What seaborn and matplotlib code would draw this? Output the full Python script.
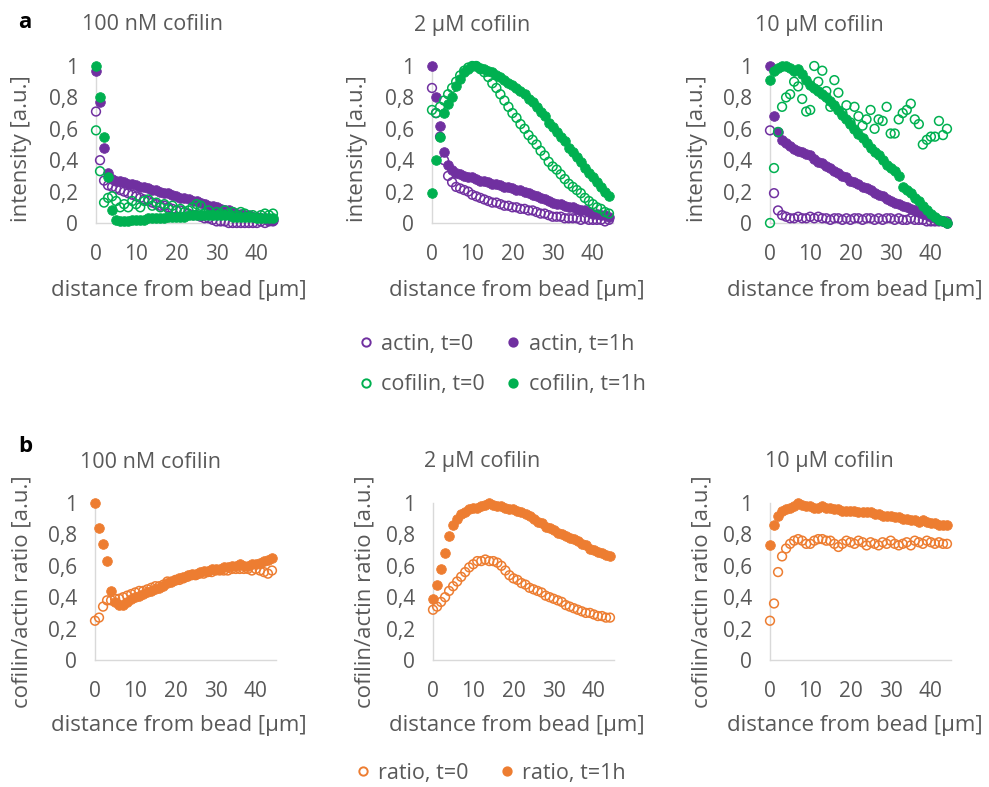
import matplotlib
matplotlib.use("Agg")
import matplotlib.pyplot as plt
from matplotlib.lines import Line2D
import numpy as np
import seaborn as sns

# distance from bead [um], one profile point per um
distance = np.arange(45)

# --- panel a: normalised intensity profiles ---
# 100 nM cofilin
actin0_100nM = [0.71, 0.40, 0.27, 0.24, 0.23, 0.22, 0.21, 0.20, 0.19, 0.18, 0.17, 0.16, 0.15, 0.14, 0.13,
                0.12, 0.11, 0.11, 0.10, 0.09, 0.08, 0.08, 0.07, 0.06, 0.05, 0.05, 0.04, 0.03, 0.03, 0.02,
                0.01, 0.01, 0.01, 0.00, 0.00, 0.00, 0.00, 0.00, 0.00, 0.00, 0.00, 0.01, 0.00, 0.01, 0.01]
actin1_100nM = [0.97, 0.77, 0.48, 0.32, 0.28, 0.27, 0.27, 0.26, 0.25, 0.25, 0.24, 0.23, 0.23, 0.22, 0.21,
                0.21, 0.20, 0.19, 0.19, 0.18, 0.17, 0.16, 0.16, 0.15, 0.14, 0.14, 0.13, 0.12, 0.11, 0.11,
                0.10, 0.09, 0.08, 0.08, 0.07, 0.06, 0.06, 0.05, 0.05, 0.04, 0.04, 0.03, 0.03, 0.02, 0.02]
cofilin0_100nM = [0.59, 0.33, 0.13, 0.16, 0.17, 0.14, 0.10, 0.12, 0.10, 0.14, 0.12, 0.10, 0.14, 0.15, 0.11,
                  0.13, 0.10, 0.12, 0.09, 0.11, 0.08, 0.09, 0.07, 0.08, 0.10, 0.12, 0.11, 0.06, 0.08, 0.05,
                  0.07, 0.06, 0.08, 0.06, 0.07, 0.05, 0.07, 0.06, 0.04, 0.05, 0.03, 0.05, 0.06, 0.05, 0.06]
cofilin1_100nM = [1.00, 0.80, 0.55, 0.29, 0.08, 0.02, 0.01, 0.01, 0.01, 0.02, 0.02, 0.02, 0.02, 0.03, 0.03,
                  0.03, 0.03, 0.03, 0.04, 0.04, 0.04, 0.04, 0.04, 0.05, 0.05, 0.05, 0.05, 0.05, 0.05, 0.05,
                  0.05, 0.05, 0.05, 0.05, 0.04, 0.04, 0.04, 0.04, 0.04, 0.04, 0.03, 0.03, 0.03, 0.03, 0.03]
# 2 uM cofilin
actin0_2uM = [0.86, 0.70, 0.55, 0.40, 0.30, 0.26, 0.23, 0.22, 0.21, 0.20, 0.18, 0.17, 0.16, 0.15, 0.14,
              0.13, 0.13, 0.12, 0.11, 0.11, 0.10, 0.10, 0.09, 0.09, 0.08, 0.08, 0.07, 0.06, 0.06, 0.05,
              0.04, 0.04, 0.04, 0.03, 0.03, 0.03, 0.03, 0.02, 0.03, 0.02, 0.02, 0.02, 0.02, 0.01, 0.02]
actin1_2uM = [1.00, 0.80, 0.62, 0.45, 0.37, 0.34, 0.32, 0.31, 0.30, 0.29, 0.29, 0.28, 0.27, 0.27, 0.26,
              0.25, 0.25, 0.24, 0.23, 0.23, 0.22, 0.21, 0.21, 0.20, 0.19, 0.18, 0.17, 0.16, 0.15, 0.14,
              0.13, 0.12, 0.12, 0.11, 0.10, 0.10, 0.09, 0.08, 0.08, 0.07, 0.06, 0.06, 0.05, 0.05, 0.04]
cofilin0_2uM = [0.72, 0.70, 0.74, 0.78, 0.82, 0.86, 0.90, 0.94, 0.97, 0.99, 1.00, 1.00, 0.98, 0.96, 0.93,
                0.89, 0.86, 0.82, 0.78, 0.74, 0.70, 0.67, 0.63, 0.60, 0.56, 0.53, 0.50, 0.46, 0.43, 0.39,
                0.36, 0.34, 0.31, 0.28, 0.25, 0.23, 0.21, 0.19, 0.16, 0.14, 0.12, 0.10, 0.09, 0.07, 0.06]
cofilin1_2uM = [0.19, 0.40, 0.55, 0.70, 0.76, 0.80, 0.87, 0.92, 0.96, 0.98, 1.00, 1.00, 0.99, 0.98, 0.97,
                0.96, 0.94, 0.93, 0.91, 0.89, 0.88, 0.86, 0.84, 0.82, 0.79, 0.77, 0.74, 0.71, 0.68, 0.64,
                0.61, 0.58, 0.55, 0.52, 0.48, 0.45, 0.42, 0.39, 0.35, 0.32, 0.29, 0.26, 0.23, 0.20, 0.17]
# 10 uM cofilin
actin0_10uM = [0.59, 0.19, 0.08, 0.05, 0.04, 0.03, 0.03, 0.04, 0.03, 0.03, 0.04, 0.03, 0.04, 0.03, 0.03,
               0.02, 0.03, 0.03, 0.02, 0.03, 0.02, 0.03, 0.03, 0.02, 0.03, 0.03, 0.02, 0.03, 0.02, 0.03,
               0.03, 0.02, 0.03, 0.02, 0.02, 0.03, 0.02, 0.02, 0.02, 0.01, 0.01, 0.01, 0.01, 0.01, 0.01]
actin1_10uM = [1.00, 0.68, 0.58, 0.53, 0.51, 0.49, 0.47, 0.46, 0.45, 0.44, 0.43, 0.41, 0.39, 0.38, 0.36,
               0.35, 0.33, 0.32, 0.30, 0.29, 0.27, 0.26, 0.25, 0.23, 0.22, 0.21, 0.19, 0.18, 0.17, 0.15,
               0.14, 0.13, 0.12, 0.11, 0.10, 0.09, 0.08, 0.07, 0.06, 0.05, 0.04, 0.03, 0.02, 0.01, 0.00]
cofilin0_10uM = [0.00, 0.35, 0.58, 0.74, 0.80, 0.82, 0.90, 0.87, 0.79, 0.71, 0.72, 1.00, 0.90, 0.97, 0.84,
                 0.74, 0.91, 0.83, 0.70, 0.75, 0.64, 0.74, 0.68, 0.62, 0.66, 0.72, 0.60, 0.66, 0.65, 0.74,
                 0.57, 0.57, 0.66, 0.70, 0.72, 0.76, 0.66, 0.63, 0.50, 0.53, 0.55, 0.55, 0.65, 0.56, 0.60]
cofilin1_10uM = [0.91, 0.97, 0.99, 1.00, 1.00, 0.99, 0.97, 0.98, 0.95, 0.91, 0.88, 0.86, 0.84, 0.82, 0.80,
                 0.78, 0.75, 0.72, 0.69, 0.66, 0.63, 0.60, 0.57, 0.54, 0.51, 0.48, 0.45, 0.43, 0.40, 0.37,
                 0.35, 0.33, 0.30, 0.23, 0.21, 0.19, 0.16, 0.14, 0.11, 0.08, 0.06, 0.04, 0.02, 0.01, 0.00]

# --- panel b: cofilin/actin ratio ---
ratio0_100nM = [0.25, 0.27, 0.34, 0.38, 0.38, 0.39, 0.39, 0.40, 0.41, 0.42, 0.43, 0.44, 0.44, 0.45, 0.46,
                0.47, 0.47, 0.48, 0.50, 0.50, 0.51, 0.51, 0.52, 0.53, 0.54, 0.54, 0.55, 0.55, 0.56, 0.56,
                0.57, 0.57, 0.57, 0.57, 0.58, 0.58, 0.58, 0.58, 0.58, 0.57, 0.58, 0.57, 0.56, 0.55, 0.57]
ratio1_100nM = [1.00, 0.84, 0.74, 0.63, 0.44, 0.37, 0.35, 0.35, 0.37, 0.39, 0.40, 0.41, 0.42, 0.43, 0.44,
                0.45, 0.46, 0.47, 0.49, 0.50, 0.51, 0.52, 0.53, 0.54, 0.55, 0.55, 0.56, 0.57, 0.57, 0.58,
                0.58, 0.58, 0.59, 0.59, 0.60, 0.60, 0.61, 0.60, 0.60, 0.61, 0.61, 0.62, 0.63, 0.64, 0.65]
ratio0_2uM = [0.32, 0.34, 0.37, 0.40, 0.44, 0.47, 0.50, 0.53, 0.56, 0.59, 0.61, 0.63, 0.63, 0.64, 0.63,
              0.63, 0.62, 0.60, 0.57, 0.54, 0.52, 0.51, 0.49, 0.48, 0.46, 0.45, 0.44, 0.43, 0.41, 0.40,
              0.39, 0.38, 0.37, 0.35, 0.34, 0.33, 0.32, 0.31, 0.30, 0.30, 0.29, 0.28, 0.28, 0.27, 0.27]
ratio1_2uM = [0.39, 0.48, 0.58, 0.68, 0.79, 0.86, 0.90, 0.93, 0.94, 0.96, 0.97, 0.97, 0.98, 0.99, 1.00,
              0.99, 0.98, 0.98, 0.97, 0.96, 0.96, 0.95, 0.94, 0.93, 0.92, 0.90, 0.88, 0.87, 0.85, 0.84,
              0.83, 0.81, 0.80, 0.79, 0.78, 0.77, 0.76, 0.74, 0.73, 0.71, 0.70, 0.69, 0.68, 0.67, 0.66]
ratio0_10uM = [0.25, 0.36, 0.56, 0.66, 0.71, 0.74, 0.76, 0.77, 0.76, 0.74, 0.74, 0.76, 0.77, 0.77, 0.76,
               0.76, 0.74, 0.72, 0.74, 0.76, 0.75, 0.74, 0.76, 0.75, 0.73, 0.75, 0.74, 0.73, 0.75, 0.74,
               0.76, 0.74, 0.73, 0.74, 0.75, 0.73, 0.76, 0.75, 0.74, 0.76, 0.75, 0.74, 0.75, 0.74, 0.74]
ratio1_10uM = [0.73, 0.86, 0.92, 0.95, 0.96, 0.97, 0.98, 1.00, 0.99, 0.98, 0.98, 0.97, 0.97, 0.98, 0.97,
               0.97, 0.96, 0.96, 0.95, 0.95, 0.95, 0.95, 0.94, 0.94, 0.94, 0.94, 0.93, 0.93, 0.92, 0.92,
               0.92, 0.91, 0.91, 0.90, 0.90, 0.89, 0.89, 0.88, 0.89, 0.88, 0.87, 0.87, 0.86, 0.86, 0.86]

panel_titles = ["100 nM cofilin", "2 µM cofilin", "10 µM cofilin"]
x_ticks = [0, 10, 20, 30, 40]
y_ticks = [0, 0.2, 0.4, 0.6, 0.8, 1]
y_ticklabels = ["0", "0,2", "0,4", "0,6", "0,8", "1"]

PURPLE = "#7030A0"
GREEN = "#00B050"
ORANGE = "#ED7D31"
TEXT = "#595959"
AXIS = "#D9D9D9"

sns.set_theme(style="white")
plt.rcParams["font.family"] = ["Open Sans", "DejaVu Sans"]

W, H = 989, 787
fig = plt.figure(figsize=(W / 100, H / 100), dpi=100)


def px_axes(left, top, right, bottom):
    return fig.add_axes([left / W, 1 - bottom / H, (right - left) / W, (bottom - top) / H])


def dots(ax, y, color, filled):
    if filled:
        sns.scatterplot(x=distance, y=y, ax=ax, s=48, color=color, edgecolor=color,
                        linewidth=0.6, clip_on=False, zorder=3)
    else:
        sns.scatterplot(x=distance, y=y, ax=ax, s=40, facecolor="none", edgecolor=color,
                        linewidth=1.1, clip_on=False, zorder=3)


def style_axes(ax):
    ax.set_xlim(0, 45)
    ax.set_ylim(0, 1)
    ax.set_xticks(x_ticks)
    ax.set_yticks(y_ticks, y_ticklabels)
    ax.tick_params(length=0, labelsize=15, colors=TEXT)
    ax.tick_params(axis="x", pad=15)
    ax.tick_params(axis="y", pad=13)
    for side in ["top", "right"]:
        ax.spines[side].set_visible(False)
    for side in ["left", "bottom"]:
        ax.spines[side].set_color(AXIS)
        ax.spines[side].set_linewidth(1.0)
    ax.set_xlabel("")
    ax.set_ylabel("")
    ax.set_facecolor("none")


# top row (a)
top_sets = [
    (actin0_100nM, actin1_100nM, cofilin0_100nM, cofilin1_100nM),
    (actin0_2uM, actin1_2uM, cofilin0_2uM, cofilin1_2uM),
    (actin0_10uM, actin1_10uM, cofilin0_10uM, cofilin1_10uM),
]
lefts = [96, 432, 770]
title_x_top = [153, 472, 819]
ylab_x_top = [22, 358, 697]
xlab_x = [179, 517, 855]
for i, (a0, a1, c0, c1) in enumerate(top_sets):
    ax = px_axes(lefts[i], 66, lefts[i] + 181, 223)
    dots(ax, a0, PURPLE, False)
    dots(ax, a1, PURPLE, True)
    dots(ax, c0, GREEN, False)
    dots(ax, c1, GREEN, True)
    style_axes(ax)
    fig.text(title_x_top[i] / W, 1 - 25 / H, panel_titles[i], ha="center", va="center",
             fontsize=15.5, color=TEXT)
    fig.text(ylab_x_top[i] / W, 1 - 149 / H, "intensity [a.u.]", rotation=90, ha="center",
             va="center", fontsize=16, color=TEXT)
    fig.text(xlab_x[i] / W, 1 - 291 / H, "distance from bead [µm]", ha="center", va="center",
             fontsize=16, color=TEXT)

# bottom row (b)
bottom_sets = [
    (ratio0_100nM, ratio1_100nM),
    (ratio0_2uM, ratio1_2uM),
    (ratio0_10uM, ratio1_10uM),
]
lefts_b = [95, 433, 770]
title_x_bot = [150, 482, 829]
ylab_x_bot = [22, 365, 702]
for i, (r0, r1) in enumerate(bottom_sets):
    ax = px_axes(lefts_b[i], 503, lefts_b[i] + 181, 660)
    dots(ax, r0, ORANGE, False)
    dots(ax, r1, ORANGE, True)
    style_axes(ax)
    fig.text(title_x_bot[i] / W, 1 - 462 / H, panel_titles[i], ha="center", va="center",
             fontsize=15.5, color=TEXT)
    fig.text(ylab_x_bot[i] / W, 1 - 592 / H, "cofilin/actin ratio [a.u.]", rotation=90,
             ha="center", va="center", fontsize=16, color=TEXT)
    fig.text(xlab_x[i] / W, 1 - 726 / H, "distance from bead [µm]", ha="center", va="center",
             fontsize=16, color=TEXT)

fig.text(18 / W, 1 - 22 / H, "a", fontsize=16, fontweight="bold", color="black", va="center")
fig.text(18 / W, 1 - 447 / H, "b", fontsize=16, fontweight="bold", color="black", va="center")


def handle(color, filled, label):
    return Line2D([], [], linestyle="none", marker="o", markersize=6,
                  markerfacecolor=color if filled else "none", markeredgecolor=color,
                  markeredgewidth=1.4, label=label)


top_handles = [handle(PURPLE, False, "actin, t=0"), handle(GREEN, False, "cofilin, t=0"),
               handle(PURPLE, True, "actin, t=1h"), handle(GREEN, True, "cofilin, t=1h")]
leg1 = fig.legend(handles=top_handles, ncol=2, loc="upper left",
                  bbox_to_anchor=(357 / W, 1 - 334 / H), frameon=False, fontsize=15.5,
                  handlelength=0.8, handletextpad=0.3, columnspacing=0.95, labelspacing=0.9,
                  borderpad=0, borderaxespad=0)
for t in leg1.get_texts():
    t.set_color(TEXT)

bot_handles = [handle(ORANGE, False, "ratio, t=0"), handle(ORANGE, True, "ratio, t=1h")]
leg2 = fig.legend(handles=bot_handles, ncol=2, loc="upper left",
                  bbox_to_anchor=(354 / W, 1 - 763 / H), frameon=False, fontsize=15.5,
                  handlelength=0.8, handletextpad=0.3, columnspacing=1.4,
                  borderpad=0, borderaxespad=0)
for t in leg2.get_texts():
    t.set_color(TEXT)

fig.savefig("out.png", dpi=100)
